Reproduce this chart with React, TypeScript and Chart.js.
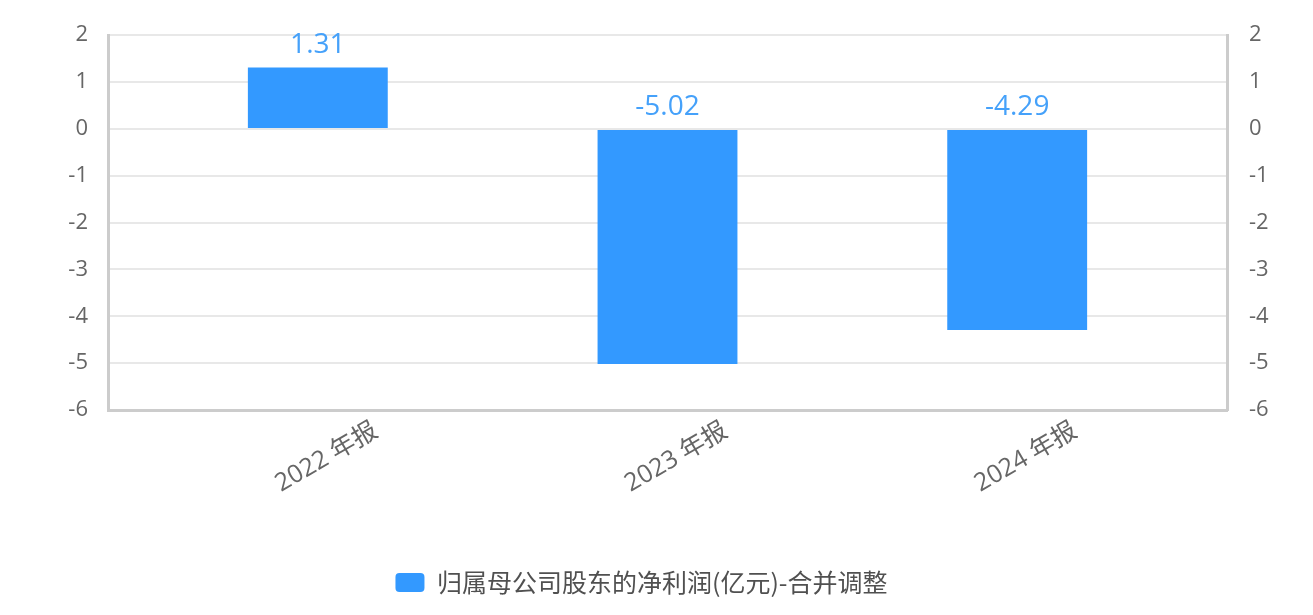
import React, { useEffect, useRef } from "react";
import { Chart, registerables } from "chart.js";

Chart.register(...registerables);

const categories: string[] = ["2022 年报", "2023 年报", "2024 年报"];
const values: number[] = [1.31, -5.02, -4.29];
const seriesName = "归属母公司股东的净利润(亿元)-合并调整";
const yMin = -6;
const yMax = 2;

const FONT = "'Open Sans', 'Noto Sans CJK SC', sans-serif";

const dataLabelPlugin = {
  id: "dataLabels",
  afterDatasetsDraw(chart: any) {
    const ctx = chart.ctx;
    const meta = chart.getDatasetMeta(0);
    ctx.save();
    ctx.font = `28px ${FONT}`;
    ctx.fillStyle = "#45a1fa";
    ctx.textAlign = "center";
    ctx.textBaseline = "alphabetic";
    meta.data.forEach((bar: any, i: number) => {
      const top = Math.min(bar.y, bar.base);
      ctx.fillText(values[i].toFixed(2), bar.x, top - 15);
    });
    ctx.restore();
  },
};

export default function App() {
  const ref = useRef<HTMLCanvasElement | null>(null);

  useEffect(() => {
    if (!ref.current) return;
    Chart.defaults.font.family = FONT;
    const chart = new Chart(ref.current, {
      type: "bar",
      data: {
        datasets: [
          {
            label: seriesName,
            data: values.map((v, i) => ({ x: i, y: v })),
            backgroundColor: "#3399ff",
            borderWidth: 0,
            barPercentage: 0.4,
            categoryPercentage: 1,
            yAxisID: "y",
          },
        ],
      },
      options: {
        responsive: false,
        animation: false,
        devicePixelRatio: 1,
        layout: { padding: { top: 35, bottom: 10, left: 0, right: 30 } },
        plugins: {
          tooltip: { enabled: false },
          legend: {
            position: "bottom",
            labels: {
              boxWidth: 29,
              boxHeight: 19,
              useBorderRadius: true,
              borderRadius: 4,
              padding: 10,
              color: "#505050",
              font: { size: 25, family: "'Noto Sans CJK SC', sans-serif" },
            },
          },
        },
        scales: {
          x: {
            type: "linear",
            offset: false,
            min: -0.6,
            max: 2.6,
            grid: { display: false, drawTicks: false, offset: false },
            border: { display: true, color: "#cccccc", width: 3 },
            afterBuildTicks: (scale: any) => {
              scale.ticks = categories.map((_, i) => ({ value: i }));
            },
            afterFit: (scale: any) => {
              scale.height = 150;
            },
            ticks: {
              autoSkip: false,
              minRotation: 30,
              maxRotation: 30,
              labelOffset: 58,
              padding: 6,
              color: "#666",
              font: { size: 25, family: FONT },
              callback: (v: any) => categories[Math.round(Number(v))] ?? "",
            },
          },
          y: {
            type: "linear",
            position: "left",
            min: yMin,
            max: yMax,
            grid: { color: "#e8e8e8", lineWidth: 2, drawTicks: false },
            border: { display: true, color: "#cccccc", width: 3 },
            afterFit: (scale: any) => {
              scale.width = 108;
            },
            ticks: {
              stepSize: 1,
              padding: 20,
              color: "#666",
              font: { size: 22, family: FONT },
            },
          },
          y2: {
            type: "linear",
            position: "right",
            min: yMin,
            max: yMax,
            grid: { display: false, drawTicks: false },
            border: { display: true, color: "#cccccc", width: 3 },
            afterFit: (scale: any) => {
              scale.width = 56;
            },
            ticks: {
              stepSize: 1,
              padding: 22,
              color: "#666",
              font: { size: 22, family: FONT },
            },
          },
        },
      } as any,
      plugins: [dataLabelPlugin],
    });
    return () => chart.destroy();
  }, []);

  return (
    <div style={{ position: "fixed", left: 0, top: 0, width: 1313, height: 615, background: "#fff" }}>
      <canvas ref={ref} width={1313} height={615} style={{ display: "block" }} />
    </div>
  );
}
